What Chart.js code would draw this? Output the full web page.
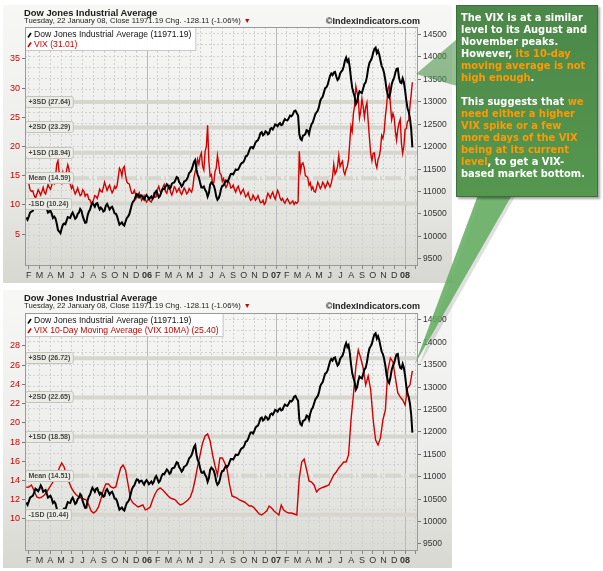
<!DOCTYPE html>
<html>
<head>
<meta charset="utf-8">
<script src="https://cdn.jsdelivr.net/npm/chart.js@4.4.1/dist/chart.umd.min.js"></script>
<style>
  body { margin: 0; background: #fff; font-family: "Liberation Sans", Arial, sans-serif; }
  #page { position: relative; width: 603px; height: 571px; overflow: hidden; }
  .panel { position: absolute; left: 3px; width: 449px; height: 278px;
    background: linear-gradient(#f7f7f6, #ededeb 55%, #d8d8d2); }
  .panel canvas { position: absolute; left: 0; top: 0; }
  .ttl { position: absolute; left: 21px; top: 3px; font: bold 9.4px "Liberation Sans", Arial; line-height: 10px; color: #1a1a1a; white-space: nowrap; }
  .sub { position: absolute; left: 21px; top: 12px; font: 7.7px "Liberation Sans", Arial; line-height: 8px; color: #222; white-space: nowrap; }
  .sub b { color: #d00000; font-size: 7px; margin-left: 3px; }
  .copy { position: absolute; right: 32px; top: 11px; font: bold 9px "Liberation Sans", Arial; line-height: 10px; color: #222; }
  #note { position: absolute; left: 456px; top: 5px; width: 136px; height: 184px; padding: 6px 0 0 4px;
    background: linear-gradient(#4b8849, #55974f); border: 1px solid #3d6e3b;
    box-shadow: 2px 2px 2px rgba(0,0,0,0.35); white-space: nowrap;
    font: bold 9.9px "DejaVu Sans", sans-serif; line-height: 12px; color: #fff; z-index: 3; }
  #note .o { color: #ff9a00; }
  svg { position: absolute; left: 0; top: 0; pointer-events: none; z-index: 2; }
</style>
</head>
<body>
<div id="page">
  <div class="panel" style="top:5px">
    <canvas id="top-chart" width="449" height="278"></canvas>
    <div class="ttl">Dow Jones Industrial Average</div>
    <div class="sub">Tuesday, 22 January 08, Close 11971.19 Chg. -128.11 (-1.06%)<b>&#9660;</b></div>
    <div class="copy">©IndexIndicators.com</div>
  </div>
  <div class="panel" style="top:290px">
    <canvas id="bottom-chart" width="449" height="278"></canvas>
    <div class="ttl">Dow Jones Industrial Average</div>
    <div class="sub">Tuesday, 22 January 08, Close 11971.19 Chg. -128.11 (-1.06%)<b>&#9660;</b></div>
    <div class="copy">©IndexIndicators.com</div>
  </div>
  <svg width="603" height="571">
    <polygon points="416,74 457,39 457,86" fill="#4f944d" fill-opacity="0.6"/>
    <polygon points="482,195 516,195 419,366" fill="#000" fill-opacity="0.12"/>
    <polygon points="478,195 512,195 415,364" fill="#5fac5c" fill-opacity="0.85"/>
  </svg>
  <div id="note">The VIX is at a similar<br>level to its August and<br>November peaks.<br>However, <span class="o">its 10-day<br>moving average is not<br>high enough</span>.<br><br>This suggests that <span class="o">we<br>need either a higher<br>VIX spike or a few<br>more days of the VIX<br>being at its current<br>level</span>, to get a VIX-<br>based market bottom.</div>
</div>
<script>
// last sample is Tuesday 22 Jan 2008
const endDate = Date.UTC(2008, 0, 22);
const DAY = 86400000;

// DJIA and VIX, two readings a week
const djia = [10410, 10360, 10430, 10520, 10541, 10560, 10629, 10720, 10695, 10660, 10717, 10790, 10740, 10650, 10673, 10690, 10607, 10520, 10541, 10560, 10496,
  10400, 10430, 10390, 10275, 10130, 10098, 10060, 10164, 10250, 10275, 10260, 10341, 10420, 10408, 10400, 10474, 10520, 10452, 10380, 10408,
  10490, 10518, 10600, 10563, 10440, 10364, 10290, 10297, 10450, 10541, 10580, 10673, 10740, 10695, 10650, 10717, 10730, 10651, 10590, 10629,
  10600, 10541, 10560, 10673, 10710, 10651, 10590, 10629, 10650, 10585, 10500, 10496, 10440, 10341, 10250, 10275, 10300, 10253, 10230, 10319,
  10400, 10430, 10480, 10585, 10700, 10762, 10790, 10872, 10930, 10917, 10860, 10894, 10900, 10850, 10810, 10872, 10910, 10872, 10820, 10850,
  10880, 10828, 10870, 10961, 11000, 10939, 10860, 10894, 10990, 11049, 11040, 11094, 11150, 11116, 11050, 11072, 11160, 11182, 11190, 11248,
  11310, 11293, 11200, 11160, 11100, 11138, 11210, 11226, 11250, 11315, 11400, 11425, 11470, 11558, 11650, 11691, 11480, 11359, 11300, 11182,
  11080, 11072, 11100, 11027, 10980, 10872, 10950, 11138, 11190, 11160, 11120, 11027, 10880, 10806, 10840, 10917, 11050, 11116, 11120, 11182,
  11230, 11204, 11240, 11315, 11380, 11381, 11370, 11425, 11480, 11470, 11480, 11536, 11600, 11624, 11640, 11691, 11770, 11779, 11830, 11912,
  11970, 11978, 11950, 12000, 12080, 12111, 12130, 12200, 12290, 12310, 12240, 12266, 12330, 12310, 12260, 12288, 12380, 12399, 12370, 12421,
  12480, 12465, 12440, 12487, 12510, 12465, 12480, 12553, 12600, 12576, 12570, 12620, 12680, 12664, 12700, 12775, 12790, 12730, 12680, 12266,
  12160, 12133, 12230, 12244, 12270, 12354, 12340, 12266, 12400, 12487, 12530, 12620, 12710, 12753, 12790, 12885, 13010, 13062, 13100, 13195,
  13290, 13306, 13360, 13460, 13560, 13615, 13580, 13637, 13650, 13549, 13470, 13505, 13610, 13659, 13690, 13770, 13900, 13969, 13880, 13925,
  13750, 13505, 13300, 13195, 13100, 12930, 12980, 13129, 13220, 13195, 13180, 13283, 13380, 13416, 13540, 13726, 13850, 13903, 13960, 14080,
  14160, 14190, 14070, 14124, 14040, 13903, 13780, 13726, 13620, 13460, 13250, 13129, 13080, 13195, 13370, 13460, 13520, 13637, 13720, 13726,
  13520, 13416, 13400, 13505, 13420, 13239, 13010, 12841, 12760, 12620, 12380, 11971.19];

const vix = [13.9, 14.6, 13.70, 12.6, 12.33, 12.4, 11.64, 11.2, 11.82, 12.6, 12.16, 11.7, 12.33, 13.0, 12.16, 11.9, 12.67, 13.5, 13.01, 12.7, 13.36,
  14.2, 13.70, 14.8, 16.95, 17.6, 15.41, 14.1, 13.70, 15.6, 14.90, 14.6, 15.92, 16.9, 16.10, 13.6, 12.84, 13.3, 12.50, 11.9, 12.33,
  12.9, 12.16, 11.6, 11.82, 12.6, 12.33, 11.5, 11.82, 11.8, 10.96, 10.9, 10.27, 10.2, 10.96, 11.6, 11.47, 11.1, 11.82, 12.7, 12.33,
  12.2, 13.01, 13.9, 13.18, 12.5, 13.01, 13.4, 12.67, 12.1, 12.50, 13.2, 12.84, 13.3, 14.73, 16.3, 15.92, 15.0, 16.27, 16.6, 15.07,
  14.0, 13.70, 13.6, 12.67, 12.0, 11.99, 12.5, 11.82, 11.2, 11.64, 12.1, 11.47, 10.8, 11.13, 11.6, 10.96, 10.5, 10.79, 11.2, 10.62,
  10.5, 11.13, 11.9, 11.30, 11.4, 12.67, 13.2, 12.33, 12.1, 13.01, 13.5, 12.33, 12.0, 13.01, 13.3, 12.16, 11.7, 12.33, 13.1, 12.84,
  12.2, 12.50, 12.9, 12.16, 11.8, 12.33, 12.9, 12.50, 11.9, 12.16, 12.8, 12.50, 12.2, 13.01, 14.8, 15.75, 16.3, 17.81, 17.0, 18.32,
  18.9, 16.61, 16.0, 19.18, 20.0, 23.63, 17.5, 14.90, 15.2, 13.70, 13.8, 15.75, 16.3, 18.49, 17.1, 15.41, 15.2, 14.04, 14.5, 13.70,
  13.0, 13.36, 14.1, 13.70, 12.9, 13.01, 13.4, 12.67, 12.2, 12.84, 13.2, 12.50, 11.9, 12.33, 12.7, 11.99, 11.4, 11.64, 12.1, 11.30,
  10.8, 10.96, 11.7, 11.30, 10.8, 11.13, 11.6, 10.96, 10.4, 10.45, 10.8, 10.10, 10.4, 11.30, 12.0, 11.64, 11.2, 11.82, 12.2, 11.47,
  11.0, 11.82, 12.5, 11.99, 11.2, 10.79, 11.1, 10.62, 10.3, 10.79, 11.1, 10.62, 10.2, 10.45, 10.7, 10.10, 10.5, 10.27, 10.6, 19.18,
  15.8, 16.95, 17.2, 16.44, 15.0, 14.90, 14.6, 13.36, 13.8, 12.67, 13.1, 12.33, 12.2, 13.01, 13.9, 13.36, 12.8, 13.18, 13.9, 13.53,
  12.9, 13.36, 14.0, 13.53, 13.1, 13.70, 14.8, 16.95, 15.3, 15.75, 16.6, 18.49, 16.6, 17.12, 17.5, 15.75, 15.2, 16.10, 16.6, 17.81,
  20.8, 23.46, 22.6, 25.68, 27.0, 30.31, 29.3, 28.25, 24.9, 26.03, 28.2, 26.88, 25.0, 26.71, 27.5, 24.32, 21.5, 18.84, 17.6, 18.84,
  18.9, 17.12, 16.4, 17.81, 18.3, 19.52, 21.9, 21.40, 22.5, 25.17, 27.1, 29.79, 30.5, 27.23, 24.6, 25.68, 24.9, 22.60, 21.1, 22.95,
  24.0, 24.66, 20.5, 18.84, 20.1, 22.95, 23.1, 24.32, 24.5, 26.88, 28.9, 31.01];

// VIX 10-day moving average, weekly
const vix10ma = [13.3,
  13.33, 13.54, 12.91, 12.29, 12.18, 12.29, 12.50, 12.81, 13.23, 13.64,
  14.06, 14.27, 15.31, 15.83, 15.41, 14.47, 13.85, 13.23, 12.81, 12.50,
  12.29, 12.18, 12.08, 11.98, 11.46, 10.83, 10.62, 10.83, 11.25, 12.08,
  13.02, 13.64, 13.64, 13.33, 13.23, 13.33, 14.37, 15.31, 15.62, 15.10,
  13.64, 12.08, 11.66, 11.46, 11.25, 11.35, 11.46, 10.94, 11.04, 11.25,
  11.98, 12.60, 13.02, 13.23, 13.02, 12.71, 12.39, 12.18, 12.08, 11.98,
  11.66, 11.46, 11.56, 11.77, 11.98, 12.29, 13.02, 14.16, 15.52, 16.66,
  17.91, 18.64, 18.85, 18.12, 16.66, 15.52, 14.58, 16.35, 16.35, 15.83,
  15.10, 13.54, 12.39, 12.29, 12.18, 11.98, 11.87, 11.77, 11.56, 11.35,
  11.35, 11.14, 10.83, 10.52, 10.42, 10.62, 10.83, 11.35, 11.14, 10.83,
  10.62, 10.42, 11.46, 10.94, 10.73, 10.62, 10.62, 10.52, 10.42, 14.27,
  15.93, 16.24, 15.10, 13.95, 13.85, 13.54, 12.81, 13.12, 13.23, 13.33,
  13.43, 13.54, 14.06, 14.58, 14.89, 15.31, 15.62, 15.93, 15.93, 16.66,
  20.30, 22.90, 25.82, 27.59, 26.75, 25.71, 23.94, 24.88, 23.42, 20.30,
  18.22, 17.70, 18.43, 20.30, 21.34, 25.50, 26.75, 26.34, 24.67, 23.11,
  22.70, 22.38, 21.86, 23.63, 23.94, 25.40];

const monthLetters = ['J', 'F', 'M', 'A', 'M', 'J', 'J', 'A', 'S', 'O', 'N', 'D'];

const vixBands = [
  { label: '+3SD (27.64)', value: 27.64 },
  { label: '+2SD (23.29)', value: 23.29 },
  { label: '+1SD (18.94)', value: 18.94 },
  { label: 'Mean (14.59)', value: 14.59, mean: true },
  { label: '-1SD (10.24)', value: 10.24 }
];
const maBands = [
  { label: '+3SD (26.72)', value: 26.72 },
  { label: '+2SD (22.65)', value: 22.65 },
  { label: '+1SD (18.58)', value: 18.58 },
  { label: 'Mean (14.51)', value: 14.51, mean: true },
  { label: '-1SD (10.44)', value: 10.44 }
];

// months since Jan 2005, fractional
function monthPos(t) {
  const d = new Date(t);
  const y = d.getUTCFullYear(), m = d.getUTCMonth();
  const dim = new Date(Date.UTC(y, m + 1, 0)).getUTCDate();
  return (y - 2005) * 12 + m + (d.getUTCDate() - 1 + d.getUTCHours() / 24) / dim;
}
function pts(arr, stepDays) {
  return arr.map((v, i) => ({ x: monthPos(endDate - (arr.length - 1 - i) * stepDays * DAY), y: v }));
}

const FONT = '"Liberation Sans", Arial, sans-serif';

const overlay = {
  id: 'overlay',
  beforeDatasetsDraw(chart, args, opts) {
    const { ctx, chartArea: a } = chart;
    const x = chart.scales.x, y = chart.scales.y;
    ctx.save();
    // year separators
    ctx.strokeStyle = '#b9b9b9';
    ctx.lineWidth = 1;
    [12, 24, 36].forEach(m => {
      const px = Math.round(x.getPixelForValue(m)) + 0.5;
      ctx.beginPath(); ctx.moveTo(px, a.top); ctx.lineTo(px, a.bottom); ctx.stroke();
    });
    // SD bands
    ctx.lineWidth = 4;
    ctx.strokeStyle = '#d6d6ce';
    opts.bands.forEach(b => {
      const py = y.getPixelForValue(b.value);
      ctx.setLineDash(b.mean ? [16, 3, 2, 3] : []);
      ctx.beginPath(); ctx.moveTo(a.left, py); ctx.lineTo(a.right, py); ctx.stroke();
    });
    ctx.restore();
  },
  afterDatasetsDraw(chart, args, opts) {
    const { ctx, chartArea: a } = chart;
    const y = chart.scales.y, r = chart.scales.yR;
    ctx.save();
    // band labels
    ctx.font = 'bold 7px ' + FONT;
    ctx.textBaseline = 'middle';
    opts.bands.forEach(b => {
      const py = Math.round(y.getPixelForValue(b.value));
      const w = ctx.measureText(b.label).width + 6;
      ctx.fillStyle = '#ecece6';
      ctx.strokeStyle = '#c4c4bc';
      ctx.lineWidth = 1;
      ctx.beginPath();
      ctx.roundRect(a.left + 0.5, py - 5.5, w, 11, 2);
      ctx.fill(); ctx.stroke();
      ctx.fillStyle = '#444';
      ctx.fillText(b.label, a.left + 3.5, py + 0.5);
    });
    // legend box
    ctx.font = '8.6px ' + FONT;
    const sets = chart.data.datasets;
    const w = Math.max(...sets.map(s => ctx.measureText(s.label).width)) + 13;
    ctx.fillStyle = 'rgba(255,255,255,0.96)';
    ctx.strokeStyle = '#c8c8c8';
    ctx.fillRect(a.left, a.top, w, 23);
    ctx.strokeRect(a.left + 0.5, a.top + 0.5, w, 23);
    sets.forEach((s, i) => {
      const ly = a.top + 8 + i * 9.5;
      ctx.strokeStyle = s.borderColor;
      ctx.lineWidth = 1.6;
      ctx.beginPath(); ctx.moveTo(a.left + 3, ly + 2.5); ctx.lineTo(a.left + 6, ly - 2); ctx.stroke();
      ctx.fillStyle = i === 0 ? '#111' : '#cc0000';
      ctx.fillText(s.label, a.left + 9, ly);
    });
    // plot frame
    ctx.strokeStyle = '#9a9a9a';
    ctx.lineWidth = 1;
    ctx.strokeRect(a.left + 0.5, a.top + 0.5, a.right - a.left - 1, a.bottom - a.top - 1);
    // right axis labels from the scale's ticks
    ctx.font = '8.5px ' + FONT;
    ctx.fillStyle = '#333';
    ctx.strokeStyle = '#777';
    ctx.textAlign = 'left';
    r.ticks.forEach(t => {
      if (t.value % 500 !== 0) return;
      const py = Math.round(r.getPixelForValue(t.value)) + 0.5;
      ctx.beginPath(); ctx.moveTo(a.right, py); ctx.lineTo(a.right + 3, py); ctx.stroke();
      ctx.fillText(String(t.value), a.right + 5, py);
    });
    ctx.restore();
  }
};

function fixSize(size, horizontal) {
  return scale => {
    if (horizontal) scale.height = size; else scale.width = size;
    scale.paddingTop = 0; scale.paddingBottom = 0;
    scale.paddingLeft = 0; scale.paddingRight = 0;
  };
}

function makeChart(id, redData, redStep, redLabel, bands, leftMin, leftMax, leftStep, showMin, showMax, rMin, rMax, padTop) {
  return new Chart(document.getElementById(id), {
    type: 'line',
    data: {
      datasets: [{
        label: 'Dow Jones Industrial Average (11971.19)',
        data: pts(djia, 3.5),
        yAxisID: 'yR',
        borderColor: '#000',
        borderWidth: 2,
        pointRadius: 0,
        tension: 0
      }, {
        label: redLabel,
        data: pts(redData, redStep),
        yAxisID: 'y',
        borderColor: '#d40000',
        borderWidth: 1.4,
        pointRadius: 0,
        tension: 0
      }]
    },
    options: {
      responsive: false,
      animation: false,
      events: [],
      layout: { padding: { top: padTop, left: 0, right: 0, bottom: 0 } },
      plugins: {
        legend: { display: false },
        title: { display: false },
        tooltip: { enabled: false },
        overlay: { bands: bands }
      },
      scales: {
        x: {
          type: 'linear',
          min: 0.65,
          max: 37.2,
          afterFit: fixSize(17, true),
          border: { display: false, dash: [2, 2] },
          grid: { color: '#cfcfcf', tickLength: 3, tickColor: '#888' },
          ticks: {
            stepSize: 1,
            includeBounds: false,
            autoSkip: false,
            maxRotation: 0,
            padding: 1,
            color: '#333',
            font: c => ({ family: FONT, size: 9, weight: c.tick && c.tick.value % 12 === 0 ? 'bold' : 'normal' }),
            callback: v => {
              if (v % 1 !== 0 || v < 1 || v > 36) return '';
              return v % 12 === 0 ? String(5 + v / 12).padStart(2, '0') : monthLetters[v % 12];
            }
          }
        },
        y: {
          position: 'left',
          min: leftMin,
          max: leftMax,
          afterFit: fixSize(22, false),
          border: { display: false },
          grid: {
            drawOnChartArea: false,
            tickLength: 3,
            tickColor: c => (c.tick && c.tick.value >= showMin && c.tick.value <= showMax) ? '#777' : 'rgba(0,0,0,0)'
          },
          ticks: {
            stepSize: leftStep,
            includeBounds: false,
            padding: 2,
            color: '#d00000',
            font: { family: FONT, size: 9 },
            callback: v => (v >= showMin && v <= showMax) ? v : ''
          }
        },
        yR: {
          position: 'right',
          min: rMin,
          max: rMax,
          afterFit: fixSize(34, false),
          border: { display: false, dash: [2, 2] },
          grid: { color: '#d2d2d2', drawTicks: false },
          ticks: { stepSize: 250, includeBounds: false, display: false }
        }
      }
    },
    plugins: [overlay]
  });
}

makeChart('top-chart', vix, 3.5, 'VIX (31.01)', vixBands, -0.45, 40.48, 5, 5, 35, 9330, 14650, 22);
makeChart('bottom-chart', vix10ma, 7, 'VIX 10-Day Moving Average (VIX 10MA) (25.40)', maBands, 6.67, 31.43, 2, 10, 28, 9328, 14642, 23);
</script>
</body>
</html>
